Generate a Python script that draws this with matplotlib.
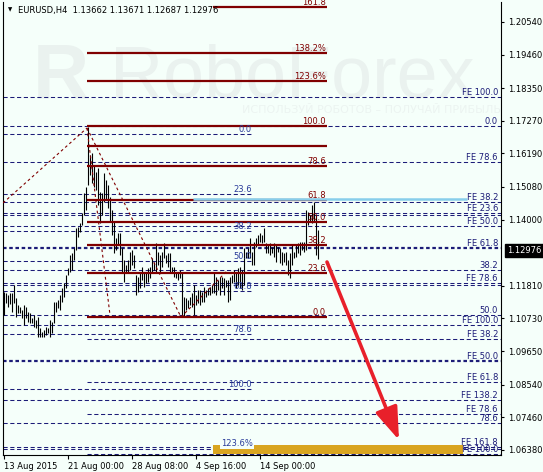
import matplotlib
matplotlib.use("Agg")
import matplotlib.pyplot as plt
import matplotlib.transforms as mtransforms
from matplotlib.patches import Rectangle

# EURUSD H4 bars, index 0 = first bar on screen
highs = [1.1160, 1.1157, 1.1150, 1.1157, 1.1157, 1.1183, 1.1140, 1.1117, 1.1111, 1.1101,
         1.1117, 1.1111, 1.1094, 1.1091, 1.1074, 1.1084, 1.1068, 1.1078, 1.1041, 1.1028,
         1.1035, 1.1044, 1.1041, 1.1068, 1.1061, 1.1127, 1.1127, 1.1134, 1.1150, 1.1174,
         1.1190, 1.1217, 1.1240, 1.1283, 1.1289, 1.1306, 1.1372, 1.1375, 1.1389, 1.1422,
         1.1488, 1.1508, 1.1706, 1.1614, 1.1620, 1.1581, 1.1557, 1.1571, 1.1491, 1.1488,
         1.1554, 1.1531, 1.1514, 1.1475, 1.1432, 1.1392, 1.1339, 1.1356, 1.1356, 1.1306,
         1.1266, 1.1250, 1.1266, 1.1293, 1.1299, 1.1283, 1.1217, 1.1210, 1.1226, 1.1243,
         1.1226, 1.1223, 1.1240, 1.1243, 1.1273, 1.1260, 1.1322, 1.1293, 1.1283, 1.1293,
         1.1322, 1.1283, 1.1289, 1.1289, 1.1243, 1.1243, 1.1226, 1.1226, 1.1233, 1.1226,
         1.1144, 1.1140, 1.1134, 1.1144, 1.1157, 1.1183, 1.1150, 1.1167, 1.1167, 1.1160,
         1.1177, 1.1167, 1.1174, 1.1177, 1.1183, 1.1223, 1.1210, 1.1200, 1.1210, 1.1210,
         1.1207, 1.1200, 1.1200, 1.1210, 1.1217, 1.1233, 1.1226, 1.1240, 1.1243, 1.1233,
         1.1306, 1.1293, 1.1306, 1.1339, 1.1293, 1.1326, 1.1339, 1.1349, 1.1356, 1.1349,
         1.1372, 1.1322, 1.1316, 1.1322, 1.1309, 1.1322, 1.1316, 1.1309, 1.1306, 1.1293,
         1.1289, 1.1293, 1.1266, 1.1289, 1.1316, 1.1293, 1.1316, 1.1322, 1.1326, 1.1326,
         1.1326, 1.1432, 1.1425, 1.1415, 1.1448, 1.1458, 1.1415, 1.13671]
lows = [1.1084, 1.1124, 1.1111, 1.1121, 1.1094, 1.1124, 1.1078, 1.1091, 1.1091, 1.1074,
        1.1051, 1.1074, 1.1061, 1.1058, 1.1058, 1.1044, 1.1041, 1.1011, 1.1011, 1.1011,
        1.1011, 1.1018, 1.1025, 1.1011, 1.1025, 1.1058, 1.1094, 1.1107, 1.1101, 1.1127,
        1.1144, 1.1174, 1.1217, 1.1226, 1.1233, 1.1266, 1.1299, 1.1342, 1.1359, 1.1382,
        1.1415, 1.1432, 1.1514, 1.1548, 1.1521, 1.1508, 1.1498, 1.1448, 1.1389, 1.1415,
        1.1458, 1.1465, 1.1438, 1.1392, 1.1349, 1.1289, 1.1299, 1.1316, 1.1283, 1.1226,
        1.1193, 1.1226, 1.1226, 1.1233, 1.1250, 1.1240, 1.1150, 1.1160, 1.1174, 1.1200,
        1.1177, 1.1190, 1.1193, 1.1207, 1.1223, 1.1233, 1.1226, 1.1250, 1.1226, 1.1243,
        1.1273, 1.1256, 1.1243, 1.1226, 1.1223, 1.1210, 1.1207, 1.1200, 1.1207, 1.1078,
        1.1078, 1.1101, 1.1107, 1.1117, 1.1111, 1.1084, 1.1117, 1.1124, 1.1117, 1.1127,
        1.1127, 1.1144, 1.1150, 1.1150, 1.1157, 1.1157, 1.1150, 1.1167, 1.1150, 1.1174,
        1.1150, 1.1177, 1.1127, 1.1134, 1.1190, 1.1193, 1.1174, 1.1183, 1.1174, 1.1167,
        1.1183, 1.1273, 1.1273, 1.1273, 1.1250, 1.1250, 1.1309, 1.1316, 1.1326, 1.1322,
        1.1326, 1.1289, 1.1289, 1.1283, 1.1289, 1.1276, 1.1260, 1.1293, 1.1256, 1.1250,
        1.1260, 1.1250, 1.1217, 1.1207, 1.1250, 1.1273, 1.1276, 1.1289, 1.1283, 1.1299,
        1.1293, 1.1299, 1.1382, 1.1392, 1.1389, 1.1392, 1.1283, 1.12687]
last_price = 1.12976

x_ticks = [0, 32, 64, 96, 128]
x_labels = ["13 Aug 2015", "21 Aug 00:00", "28 Aug 08:00", "4 Sep 16:00", "14 Sep 00:00"]
y_ticks = [1.20540, 1.19460, 1.18350, 1.17270, 1.16190, 1.15080, 1.14000,
           1.11810, 1.10730, 1.09650, 1.08540, 1.07460, 1.06380]

# fibo expansion levels (navy dashed) across the whole chart
fe_prices = [1.18057, 1.17097, 1.15906, 1.14582, 1.14218, 1.14152, 1.13787, 1.12331,
             1.11901, 1.11835, 1.10842, 1.10511, 1.08028, 1.07267, 1.06475, 1.06409]
fe_labels = ["FE 100.0", "0.0", "FE 78.6", "FE 38.2", "FE 23.6", "", "FE 50.0", "38.2",
             "FE 78.6", "", "50.0", "FE 100.0", "FE 138.2", "78.6", "FE 161.8", ""]
fe_bold_prices = [1.13060, 1.09319]
fe_bold_labels = ["FE 61.8", "FE 50.0"]
# levels starting at the 21 Aug high
fe_part_prices = [1.10047, 1.08626, 1.07565, 1.06242]
fe_part_labels = ["FE 38.2", "FE 61.8", "FE 78.6", "FE 100.0"]

# blue retracement on the left
ret_prices = [1.16833, 1.14847, 1.13622, 1.12629, 1.11636, 1.10213, 1.08394]
ret_labels = ["0.0", "23.6", "38.2", "50.0", "61.8", "78.6", "100.0"]

# maroon retracement from the 21 Aug high
red_prices = [1.17097, 1.16435, 1.15773, 1.14648, 1.13920, 1.13159, 1.12232, 1.10775,
              1.18587, 1.19514]
red_labels = ["100.0", "", "78.6", "61.8", "50.0", "38.2", "23.6", "0.0", "123.6%", "138.2%"]
red_top_price = 1.21036

blue_zone_price = 1.14665
target_zone = [1.06242, 1.06540]

# dotted trend lines of the fibo objects (bar, price)
trend_lines = [
    [(-0.5, 1.14549), (41.5, 1.17031)],
    [(41.5, 1.17031), (53.0, 1.10842)],
    [(41.5, 1.17031), (88.5, 1.10775)],
    [(88.5, 1.10775), (112.0, 1.12331)],
]
arrow_from = (161.5, 1.12596)
arrow_to = (197.5, 1.06704)

BG = "#F5FFFA"
NAVY = "#1C1C78"
MAROON = "#800000"
WM = "#EAF2EF"
FS = 6

plt.rcParams["font.family"] = ["DejaVu Sans"]
fig = plt.figure(figsize=(5.43, 4.72), dpi=100, facecolor=BG)
ax = fig.add_axes([3 / 543, 17 / 472, 498 / 543, 453 / 472])
ax.set_facecolor(BG)
x0, x1 = -0.5, 248.5
ax.set_xlim(x0, x1)
ax.set_ylim(1.0621, 1.2120)

# watermark
ax.text(0.06, 0.79, "R", transform=ax.transAxes, fontsize=56, fontweight="bold",
        color=WM, family="Liberation Sans", zorder=0)
ax.text(0.215, 0.79, "RoboForex", transform=ax.transAxes, fontsize=53,
        color=WM, family="Liberation Sans", zorder=0)
ax.text(0.48, 0.755, "ИСПОЛЬЗУЙ РОБОТОВ – ПОЛУЧАЙ ПРИБЫЛЬ", transform=ax.transAxes,
        fontsize=8, color="#ECF4F1", zorder=0)

dash = (0, (4, 2.5))
right_x = 247.0
ax.hlines(fe_prices, x0, x1, colors=NAVY, lw=0.75, linestyles=[dash], zorder=1)
ax.hlines(fe_bold_prices, x0, x1, colors=NAVY, lw=1.6, linestyles=[(0, (1.6, 1.2))], zorder=1)
ax.hlines(fe_part_prices, 41.5, x1, colors=NAVY, lw=0.75, linestyles=[dash], zorder=1)
for p, lab in zip(fe_prices + fe_bold_prices + fe_part_prices,
                  fe_labels + fe_bold_labels + fe_part_labels):
    if lab:
        ax.text(right_x, p, lab, ha="right", va="bottom", fontsize=FS, color=NAVY, zorder=4)

ax.hlines(ret_prices, x0, 124.5, colors=NAVY, lw=0.75, linestyles=[dash], zorder=1)
for p, lab in zip(ret_prices, ret_labels):
    ax.text(124.0, p, lab, ha="right", va="bottom", fontsize=FS, color="#2A3C9A", zorder=4)

# target zone
ax.add_patch(Rectangle((104.5, target_zone[0]), 125, target_zone[1] - target_zone[0],
                       facecolor="#D9A520", edgecolor="none", zorder=2))
ax.text(116.5, target_zone[1] + 0.0006, "123.6%", ha="center", va="center", fontsize=FS,
        color="#2A3C9A", zorder=4,
        bbox=dict(facecolor=BG, edgecolor="none", pad=0.6))

# bars
ax.vlines(range(len(highs)), lows, highs, colors="black", lw=0.8, zorder=2)

# maroon levels
ax.hlines(red_prices, 41.5, 161.5, colors=MAROON, lw=1.6, zorder=3)
ax.hlines([red_top_price], 104.5, 161.5, colors=MAROON, lw=1.6, zorder=3)
for p, lab in zip(red_prices + [red_top_price], red_labels + ["161.8"]):
    if lab:
        ax.text(161.0, p, lab, ha="right", va="bottom", fontsize=FS, color=MAROON, zorder=4)

ax.hlines([blue_zone_price], 94.5, 231.5, colors="#87CEEB", lw=1.8, zorder=3)

for seg in trend_lines:
    ax.plot([seg[0][0], seg[1][0]], [seg[0][1], seg[1][1]], color=MAROON, lw=0.8,
            linestyle=(0, (2.5, 2.5)), zorder=3)

ax.annotate("", xy=arrow_to, xytext=arrow_from,
            arrowprops=dict(arrowstyle="-|>,head_length=2.0,head_width=0.7",
                            color="#E8202A", lw=2.6, shrinkA=0, shrinkB=0), zorder=5)

# axes styling
ax.spines["top"].set_visible(False)
for s in ["left", "right", "bottom"]:
    ax.spines[s].set_linewidth(0.8)
ax.yaxis.tick_right()
ax.set_yticks(y_ticks)
ax.set_yticklabels([f"{v:.5f}" for v in y_ticks], fontsize=FS)
ax.tick_params(axis="y", length=2.5, width=0.8, pad=2.5)
ax.set_xticks(x_ticks)
ax.set_xticklabels(x_labels, fontsize=FS, ha="left")
ax.tick_params(axis="x", length=3, width=0.8, pad=2)

trans = mtransforms.blended_transform_factory(ax.transAxes, ax.transData)
ax.text(1.012, last_price, f"{last_price:.5f}", transform=trans, fontsize=FS, color="white",
        ha="left", va="center", clip_on=False,
        bbox=dict(facecolor="black", edgecolor="black", pad=1.6))

ax.text(0.010, 0.982, "\u25BC", transform=ax.transAxes, fontsize=4, va="center")
ax.text(0.030, 0.982, "EURUSD,H4  1.13662 1.13671 1.12687 1.12976", transform=ax.transAxes,
        fontsize=FS, va="center")

fig.savefig("out.png", dpi=100, facecolor=BG)
